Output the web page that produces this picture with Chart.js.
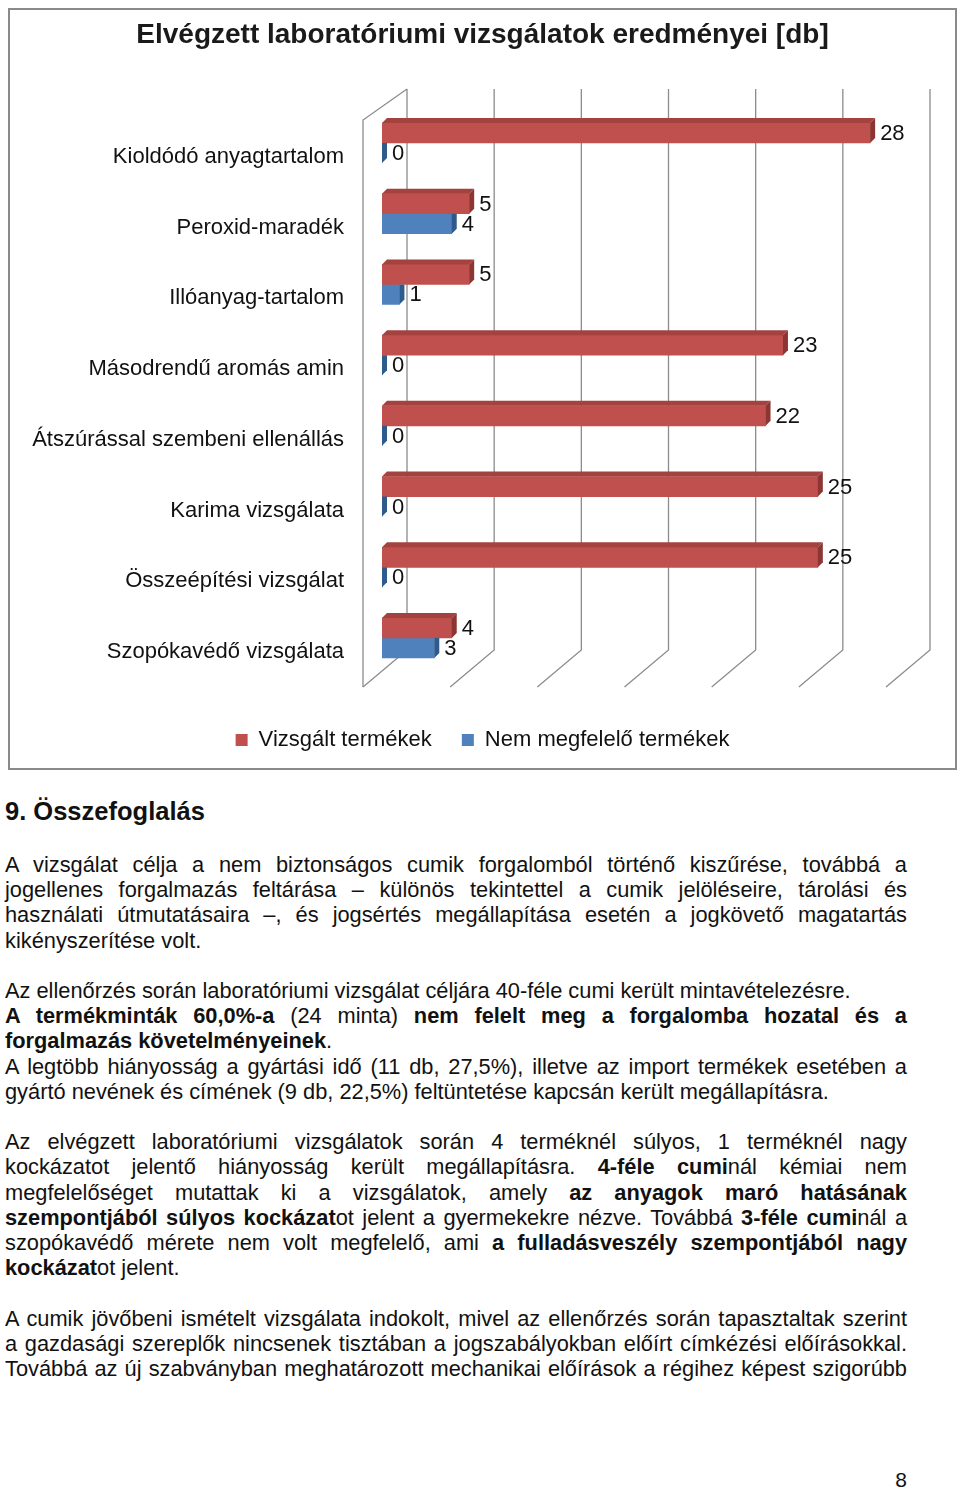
<!DOCTYPE html>
<html lang="hu">
<head>
<meta charset="utf-8">
<script src="https://cdn.jsdelivr.net/npm/chart.js@4.4.1/dist/chart.umd.min.js"></script>
<style>
  html, body { margin: 0; padding: 0; background: #fff; }
  body { width: 960px; height: 1491px; position: relative; font-family: "Liberation Sans", Arial, sans-serif; color: #111; }
  #chartBox { position: absolute; left: 8px; top: 8px; width: 949px; height: 762px; box-sizing: border-box; border: 2px solid #8a8a8a; }
  #chartBox canvas { display: block; }
  h2 { position: absolute; left: 5px; top: 796px; margin: 0; font-size: 25.5px; line-height: 30px; font-weight: bold; }
  #text { position: absolute; left: 5px; top: 852px; width: 902px; font-size: 21.8px; line-height: 25.2px; }
  #text p { margin: 0 0 25.2px 0; }
  #text .j { text-align: justify; text-align-last: justify; white-space: nowrap; }
  #text .l { text-align: left; white-space: nowrap; }
  #pagenum { position: absolute; right: 53px; top: 1468px; font-size: 21px; }
</style>
</head>
<body>
<div id="chartBox"><canvas id="labChart" width="945" height="758"></canvas></div>

<h2>9. Összefoglalás</h2>
<div id="text">
  <p>
    <span style="display:block" class="j">A vizsgálat célja a nem biztonságos cumik forgalomból történő kiszűrése, továbbá a</span>
    <span style="display:block" class="j">jogellenes forgalmazás feltárása – különös tekintettel a cumik jelöléseire, tárolási és</span>
    <span style="display:block" class="j">használati útmutatásaira –, és jogsértés megállapítása esetén a jogkövető magatartás</span>
    <span style="display:block" class="l">kikényszerítése volt.</span>
  </p>
  <p>
    <span style="display:block" class="l">Az ellenőrzés során laboratóriumi vizsgálat céljára 40-féle cumi került mintavételezésre.</span>
    <span style="display:block" class="j"><b>A termékminták 60,0%-a</b> (24 minta) <b>nem felelt meg a forgalomba hozatal és a</b></span>
    <span style="display:block" class="l"><b>forgalmazás követelményeinek</b>.</span>
    <span style="display:block" class="j">A legtöbb hiányosság a gyártási idő (11 db, 27,5%), illetve az import termékek esetében a</span>
    <span style="display:block" class="l">gyártó nevének és címének (9 db, 22,5%) feltüntetése kapcsán került megállapításra.</span>
  </p>
  <p>
    <span style="display:block" class="j">Az elvégzett laboratóriumi vizsgálatok során 4 terméknél súlyos, 1 terméknél nagy</span>
    <span style="display:block" class="j">kockázatot jelentő hiányosság került megállapításra. <b>4-féle cumi</b>nál kémiai nem</span>
    <span style="display:block" class="j">megfelelőséget mutattak ki a vizsgálatok, amely <b>az anyagok maró hatásának</b></span>
    <span style="display:block" class="j"><b>szempontjából súlyos kockázat</b>ot jelent a gyermekekre nézve. Továbbá <b>3-féle cumi</b>nál a</span>
    <span style="display:block" class="j">szopókavédő mérete nem volt megfelelő, ami <b>a fulladásveszély szempontjából nagy</b></span>
    <span style="display:block" class="l"><b>kockázat</b>ot jelent.</span>
  </p>
  <p>
    <span style="display:block" class="j">A cumik jövőbeni ismételt vizsgálata indokolt, mivel az ellenőrzés során tapasztaltak szerint</span>
    <span style="display:block" class="j">a gazdasági szereplők nincsenek tisztában a jogszabályokban előírt címkézési előírásokkal.</span>
    <span style="display:block" class="j">Továbbá az új szabványban meghatározott mechanikai előírások a régihez képest szigorúbb</span>
  </p>
</div>
<div id="pagenum">8</div>

<script>
const categories = [
  'Kioldódó anyagtartalom',
  'Peroxid-maradék',
  'Illóanyag-tartalom',
  'Másodrendű aromás amin',
  'Átszúrással szembeni ellenállás',
  'Karima vizsgálata',
  'Összeépítési vizsgálat',
  'Szopókavédő vizsgálata'
];
const testedValues = [28, 5, 5, 23, 22, 25, 25, 4];
const failedValues = [0, 4, 1, 0, 0, 0, 0, 3];
const gridValues = [0, 5, 10, 15, 20, 25, 30];

const RED = '#c0504d', RED_TOP = '#a4423f', RED_SIDE = '#8c3532';
const BLUE = '#4f81bd', BLUE_SIDE = '#2f5b8c';
const DEPTH = 5;

Chart.defaults.font.family = '"Liberation Sans", Arial, sans-serif';
Chart.defaults.color = '#111';

// back wall, left wall and floor of the 3D box
const wallPlugin = {
  id: 'walls',
  beforeDatasetsDraw(chart) {
    const { ctx, chartArea, scales } = chart;
    const xs = scales.x;
    const backTop = chartArea.top - 18.6;
    const backBottom = chartArea.bottom - 23.4;
    const frontBottom = chartArea.bottom + 13.6;
    ctx.save();
    ctx.strokeStyle = '#8c8c8c';
    ctx.lineWidth = 1.3;
    gridValues.forEach(v => {
      const px = xs.getPixelForValue(v);
      ctx.beginPath();
      ctx.moveTo(px + 25, backTop);
      ctx.lineTo(px + 25, backBottom);
      ctx.lineTo(px - 19, frontBottom);
      ctx.stroke();
    });
    // left wall
    const x0 = xs.getPixelForValue(0);
    ctx.beginPath();
    ctx.moveTo(x0 + 25, backTop);
    ctx.lineTo(x0 - 19, backTop + 31);
    ctx.lineTo(x0 - 19, frontBottom);
    ctx.stroke();
    ctx.restore();
  }
};

// 3D faces and value labels on the bars
const barPlugin = {
  id: 'bars3d',
  afterDatasetsDraw(chart) {
    const { ctx } = chart;
    ctx.save();
    chart.data.datasets.forEach((ds, di) => {
      const meta = chart.getDatasetMeta(di);
      meta.data.forEach((bar, i) => {
        const top = bar.y - bar.height / 2;
        const bottom = bar.y + bar.height / 2;
        const x = bar.x, base = bar.base;
        if (di === 0) {
          ctx.fillStyle = RED_TOP;
          ctx.beginPath();
          ctx.moveTo(base, top);
          ctx.lineTo(base + DEPTH, top - DEPTH);
          ctx.lineTo(x + DEPTH, top - DEPTH);
          ctx.lineTo(x, top);
          ctx.closePath();
          ctx.fill();
          ctx.fillStyle = RED_SIDE;
          ctx.beginPath();
          ctx.moveTo(x, top);
          ctx.lineTo(x + DEPTH, top - DEPTH);
          ctx.lineTo(x + DEPTH, bottom - DEPTH);
          ctx.lineTo(x, bottom);
          ctx.closePath();
          ctx.fill();
        } else {
          ctx.fillStyle = BLUE_SIDE;
          ctx.beginPath();
          ctx.moveTo(x, top);
          ctx.lineTo(x + DEPTH, top);
          ctx.lineTo(x + DEPTH, bottom - DEPTH);
          ctx.lineTo(x, bottom);
          ctx.closePath();
          ctx.fill();
        }
        ctx.fillStyle = '#111';
        ctx.font = '22px "Liberation Sans", Arial, sans-serif';
        ctx.textAlign = 'left';
        ctx.textBaseline = 'middle';
        ctx.fillText(String(ds.data[i]), x + 10, bar.y + 1);
      });
    });
    ctx.restore();
  }
};

new Chart(document.getElementById('labChart'), {
  type: 'bar',
  data: {
    labels: categories,
    datasets: [
      { label: 'Vizsgált termékek', data: testedValues, backgroundColor: RED, barThickness: 20 },
      { label: 'Nem megfelelő termékek', data: failedValues, backgroundColor: BLUE, barThickness: 20 }
    ]
  },
  options: {
    indexAxis: 'y',
    responsive: false,
    animation: false,
    layout: { padding: { left: 0, right: 0, top: 0, bottom: 7 } },
    scales: {
      x: {
        min: 0, max: 30,
        ticks: { display: false },
        grid: { display: false, drawTicks: false },
        border: { display: false },
        afterFit: s => { s.height = 25.6; }
      },
      y: {
        grid: { display: false, drawTicks: false },
        border: { display: false },
        ticks: { padding: 38, labelOffset: 14, color: '#111', font: { size: 22 } },
        afterFit: s => { s.width = 372; }
      },
      // empty right margin so the title and legend stay centred on the box
      y2: {
        type: 'category',
        position: 'right',
        ticks: { display: false },
        grid: { display: false, drawTicks: false },
        border: { display: false },
        afterFit: s => { s.width = 50; }
      }
    },
    plugins: {
      title: {
        display: true,
        text: 'Elvégzett laboratóriumi vizsgálatok eredményei [db]',
        font: { size: 28, weight: 'bold' },
        color: '#1a1a1a',
        padding: { top: 8, bottom: 56 }
      },
      legend: {
        position: 'bottom',
        labels: { boxWidth: 12, boxHeight: 12, padding: 30, color: '#111', font: { size: 22 } }
      },
      tooltip: { enabled: false }
    }
  },
  plugins: [wallPlugin, barPlugin]
});
</script>
</body>
</html>
